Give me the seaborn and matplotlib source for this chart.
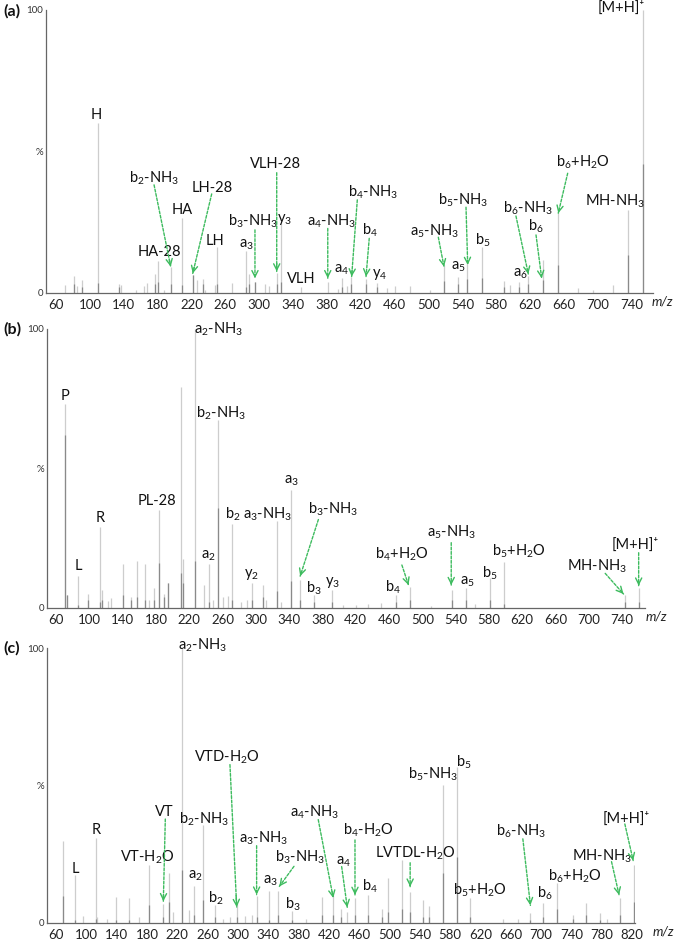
import re
import matplotlib
matplotlib.use("Agg")
import matplotlib.pyplot as plt
import seaborn as sns

sns.set_theme(style="white")
plt.rcParams['font.family'] = ['Lato', 'DejaVu Sans']

# ---- panel (a) peaks: m/z, intensity (%), darker lower part (%)
a_mz = [70.6, 81.3, 84.4, 91, 109, 134.8, 136.4, 154.5, 164, 167, 177, 180, 187.6, 195.5,
        208.5, 221.5, 226, 233.2, 236, 247.8, 250, 267.5, 284, 288, 295, 307, 311, 320.7,
        325.7, 349, 381, 392.7, 397.5, 403.4, 409, 426, 439, 450.6, 460.4, 478, 501.8,
        518, 535, 546, 563.5, 589.5, 596.6, 607, 618, 634.8, 653.3, 677, 694.7, 717.6,
        735.3, 753]
a_int = [2.9, 5.9, 2.4, 4.5, 60, 3.3, 2.9, 1, 2.4, 3.5, 6.8, 11.3, 1.2, 9.3,
         26.4, 6.4, 4.7, 5, 1.2, 2.9, 16.1, 3.5, 15, 6.7, 4, 3.3, 2.6, 7,
         24.6, 2.1, 3.9, 1.4, 5.3, 2.4, 5.8, 5, 3.6, 1.8, 2.4, 2.4, 1.2,
         9.9, 5.8, 10.5, 16.4, 4.1, 2.9, 4, 6, 11.7, 28.7, 1.8, 1.2, 2.9,
         29.3, 100]
a_dark = [0, 3, 0, 2, 3.5, 2, 0, 0, 0, 0, 3, 4, 0, 3,
          2.9, 6.4, 0, 3, 0, 0, 3, 0, 2, 3, 4, 0, 0, 3,
          4, 0, 0, 0, 2, 0, 3, 3, 2, 0, 0, 0, 0,
          4.1, 3, 5, 5.3, 2, 0, 2, 3, 4.7, 10, 0, 0, 0,
          13.4, 45.6]
a_labels = ["H", "b_2-NH_3", "HA", "LH-28", "HA-28", "LH", "a_3", "b_3-NH_3", "VLH-28", "y_3",
            "VLH", "a_4-NH_3", "a_4", "b_4-NH_3", "b_4", "y_4", "a_5-NH_3", "a_5", "b_5-NH_3",
            "b_5", "a_6", "b_6-NH_3", "b_6", "b_6+H_2O", "MH-NH_3", "[M+H]⁺"]
a_lab_x = [108, 175.8, 208.5, 243.9, 181.7, 247.8, 285.2, 293, 318.7, 329.5,
           349.4, 385.6, 397.5, 434.8, 431, 441.9, 507.7, 535.2, 541.1,
           564.7, 608, 617.9, 627, 682.9, 720.3, 728.2]
a_lab_y = [62.9, 40.5, 29.3, 37, 14.6, 18.5, 17, 25.2, 45.6, 25.8,
           4.8, 25.2, 8.1, 35.4, 22, 6.4, 21.7, 9.3, 32.9,
           18.5, 6.7, 29.9, 23.4, 46.2, 32.3, 100.6]
a_arrows = [(175.8, 38.2, 195.5, 9.3), (243.9, 35, 221.5, 6.9), (295, 22.3, 295, 5.2),
            (320.7, 42.5, 320.7, 7.6), (381, 22.8, 381, 5.2), (415.9, 32.9, 409.2, 5.8),
            (430, 19.3, 426.2, 5.8), (511.6, 19.7, 518.3, 9.3), (544.3, 30.3, 546.3, 9.9),
            (603.3, 27.2, 617.9, 6.7), (627, 20.5, 633.7, 5.2), (664.4, 42.3, 653.3, 28.2)]

# ---- panel (b)
b_mz = [71.2, 72.9, 86.8, 98.8, 112.9, 114.9, 122, 126, 140.9, 150, 157.4, 167, 172, 178.2,
        183.4, 190, 194.9, 209.9, 213, 227, 237.9, 243.9, 248, 254.3, 261, 266.4, 271.9, 282,
        290, 295.6, 309.2, 312, 325.3, 330, 342.5, 353.3, 370, 392, 405, 420, 435, 450.3,
        468.6, 485.5, 510, 535.6, 552.4, 563, 581.6, 598.5, 743.9, 760.7]
b_int = [73.1, 4.8, 11.6, 5, 28.9, 6.6, 2.5, 3.5, 15.9, 4, 16.7, 15.8, 3, 7.2,
         35.2, 5, 9, 79.2, 17.6, 100, 8.4, 15.9, 3, 67.3, 4, 4.2, 30.2, 2,
         3, 9, 8.4, 3, 31.1, 2, 42.4, 9.9, 4.8, 6.6, 1, 1, 1.5, 1.8,
         4.7, 7.6, 0.8, 6.5, 7.1, 1.5, 10.9, 16.6, 4.7, 7.1]
b_dark = [62.1, 4.8, 1, 3, 2, 3, 0, 0, 4.8, 3, 4, 3, 0, 3,
          16, 4, 9, 12.5, 9, 16.7, 0, 2, 0, 35.8, 0, 0, 3, 0,
          0, 3, 4, 0, 6, 0, 9.6, 3, 2, 2, 0, 0, 0, 0,
          2, 3, 0, 3, 3, 0, 3, 1.5, 2, 2]
b_labels = ["P", "L", "R", "PL-28", "a_2-NH_3", "a_2", "b_2-NH_3", "b_2", "y_2", "a_3-NH_3",
            "a_3", "b_3-NH_3", "b_3", "y_3", "b_4", "b_4+H_2O", "a_5-NH_3", "a_5", "b_5",
            "b_5+H_2O", "MH-NH_3", "[M+H]⁺"]
b_lab_x = [71.2, 86.8, 112.9, 181, 255, 243, 258.4, 271.9, 295.4, 314.4,
           343, 393.3, 370, 392, 465.4, 475.5, 534.8, 553.6, 581.6,
           615.6, 709.9, 755.9]
b_lab_y = [75.9, 14.9, 32.3, 38.2, 100, 18.8, 69.9, 33.5, 11.9, 33.5,
           45.4, 35.2, 7.2, 9, 7.4, 19.4, 27, 9.4, 12.4,
           20.2, 15, 22.6]
b_arrows = [(375.2, 31.7, 353.3, 11.4), (475.5, 15.4, 483.5, 8.2), (534.8, 23.4, 534.8, 8.2),
            (719.8, 12.4, 741.8, 5), (760, 19.8, 760, 8)]

# ---- panel (c)
c_mz = [68.8, 85, 96, 112.4, 114, 127.7, 139.2, 156.3, 170, 183.1, 201.6, 209.5, 214,
        225.8, 235.8, 242, 253.5, 269.8, 280, 290, 299.2, 310, 318, 324.7, 341.4, 353.3,
        371, 390, 410.5, 425.8, 436, 444.3, 454.5, 472, 489.6, 498.4, 516, 527.3, 544,
        552.8, 571.3, 588.9, 606.2, 650, 670, 686, 702.9, 720.5, 742.5, 760, 777.7, 787,
        804, 822.5]
c_int = [29.7, 17.5, 2.4, 30.9, 2, 1.5, 9.5, 9.1, 2, 21.2, 7, 18.2, 4,
         100, 4.8, 13.3, 35.8, 6.7, 1.5, 2, 7.3, 2.5, 3, 9.7, 11.5, 11.5,
         4.2, 1.5, 9.5, 10.3, 5, 4.1, 9, 10.2, 5, 16.2, 22.9, 11.4, 8.4,
         6.2, 50.2, 56.8, 9, 1.5, 1.5, 3.5, 7.4, 14.4, 2.9, 7.2, 3.5, 1.5,
         9, 21.1]
c_dark = [9.7, 1, 0, 1.5, 0, 0, 1, 1, 0, 6.7, 2, 7.5, 0,
          19.2, 0, 3, 8.5, 2, 0, 0, 2, 0, 0, 2, 1, 3,
          1, 0, 3, 3, 2, 0, 3, 3, 2, 4, 5, 4, 2,
          2, 18.1, 23.9, 2, 0, 0, 1, 2, 5, 1.5, 3, 1, 0,
          3, 7.5]
c_labels = ["L", "R", "VT-H_2O", "VT", "a_2-NH_3", "b_2-NH_3", "a_2", "b_2", "VTD-H_2O",
            "a_3-NH_3", "a_3", "b_3-NH_3", "b_3", "a_4-NH_3", "a_4", "b_4-H_2O", "b_4",
            "LVTDL-H_2O", "b_5-NH_3", "b_5", "b_5+H_2O", "b_6-NH_3", "b_6", "b_6+H_2O",
            "MH-NH_3", "[M+H]⁺"]
c_lab_x = [85, 112.4, 180.5, 202.5, 253.5, 255, 243.4, 271.5, 286,
           333.5, 342.3, 382, 372.4, 401.7, 439, 472, 474.2,
           533.9, 557, 597.5, 619.4, 673.7, 705, 744.6,
           779.9, 813]
c_lab_y = [19.8, 33.7, 24, 40.2, 100.9, 37.8, 17, 9.1, 60.4,
           30.9, 15.5, 24, 6.7, 40.2, 22.4, 33.6, 13.2,
           25.3, 53.9, 58.5, 12, 33.3, 10.7, 16.8,
           24.2, 38]
c_arrows = [(204.2, 37.8, 201.6, 7.9), (289.5, 57.6, 298.4, 5.8), (324.7, 28.1, 324.7, 10.3),
            (374, 20.6, 354.7, 13.3), (406, 37.6, 425.8, 9.1), (436.9, 20.5, 444.3, 5.7),
            (454.5, 30.2, 454.5, 10.2), (527.3, 21.9, 527.3, 13.2), (676, 30.6, 686, 6.4),
            (793, 22.3, 803, 10.2), (810.6, 36, 821.6, 22.7)]

LIGHT = '#cdcdcd'
DARK = '#8a8a8a'
GREEN = '#3dbb5e'


def fmt(s):
    return re.sub(r'_(\d)', r'$\\mathregular{_\1}$', s)


def draw_panel(ax, mz, inten, dark, labels, lx, ly, arrows, xlim, xmax_tick, letter, ypos, mz_pos):
    ax.vlines(mz, 0, inten, color=LIGHT, lw=0.9)
    ax.vlines(mz, 0, dark, color=DARK, lw=0.9)
    for t, x, y in zip(labels, lx, ly):
        ax.text(x, y, fmt(t), ha='center', va='center', fontsize=10.5, color='#111111')
    for x0, y0, x1, y1 in arrows:
        ax.annotate('', xy=(x1, y1), xytext=(x0, y0),
                    arrowprops=dict(arrowstyle='-', color=GREEN, lw=1.0, ls=(0, (2, 1.2)),
                                    shrinkA=0, shrinkB=0))
        hx = x1 + 0.08 * (x0 - x1)
        hy = y1 + 0.08 * (y0 - y1)
        ax.annotate('', xy=(x1, y1), xytext=(hx, hy),
                    arrowprops=dict(arrowstyle='->', color=GREEN, lw=1.0,
                                    mutation_scale=11, shrinkA=0, shrinkB=0))
    ax.set_xlim(*xlim)
    ax.set_ylim(0, 100)
    ax.set_xticks(range(60, xmax_tick + 1, 40))
    ax.set_yticks([0, 50, 100])
    ax.set_yticklabels(['0', '%', '100'])
    ax.tick_params(axis='x', labelsize=9.5, length=2, pad=2, colors='#222222')
    ax.tick_params(axis='y', labelsize=7, length=0, pad=2, colors='#333333')
    sns.despine(ax=ax)
    for s in ['left', 'bottom']:
        ax.spines[s].set_color('#666666')
        ax.spines[s].set_linewidth(0.9)
    ax.annotate('m/z', xy=(mz_pos, 0), xycoords='axes fraction', xytext=(0, -2),
                textcoords='offset points', ha='center', va='top', style='italic',
                fontsize=9.5, color='#222222')
    fig.text(3 / 685, ypos, letter, fontsize=11.5, fontweight='bold',
             ha='left', va='center', color='#111111')


fig = plt.figure(figsize=(6.85, 9.42), dpi=100)
ax_a = fig.add_axes([0.0672, 0.6890, 0.8861, 0.3004])
ax_b = fig.add_axes([0.0682, 0.3546, 0.8734, 0.2962])
ax_c = fig.add_axes([0.0682, 0.0202, 0.8588, 0.2919])

draw_panel(ax_a, a_mz, a_int, a_dark, a_labels, a_lab_x, a_lab_y, a_arrows,
           (48.2, 765.2), 740, '(a)', 1 - 11 / 942, 1.015)
draw_panel(ax_b, b_mz, b_int, b_dark, b_labels, b_lab_x, b_lab_y, b_arrows,
           (48.8, 767.6), 740, '(b)', 1 - 329 / 942, 1.0195)
draw_panel(ax_c, c_mz, c_int, c_dark, c_labels, c_lab_x, c_lab_y, c_arrows,
           (47.7, 824), 820, '(c)', 1 - 648 / 942, 1.048)

fig.savefig('out.png', dpi=100)
